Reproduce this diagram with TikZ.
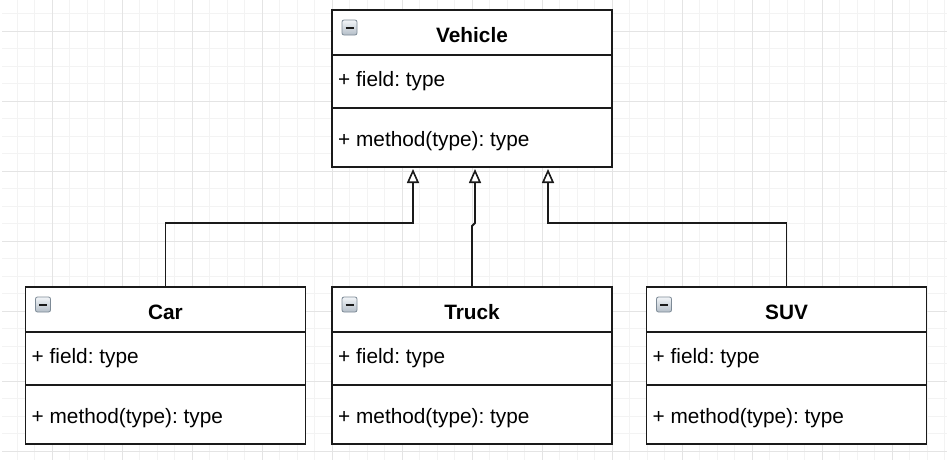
\documentclass[tikz,border=0pt]{standalone}
\usepackage{fontspec}
\setmainfont{Liberation Sans}
\usetikzlibrary{arrows.meta,calc}
\frenchspacing
\definecolor{gridmajor}{HTML}{E4E4E4}
\definecolor{gridminor}{HTML}{F3F3F3}
\definecolor{boxline}{HTML}{1A1A1A}
\definecolor{icontop}{HTML}{F2F5F8}
\definecolor{iconbot}{HTML}{B4BEC8}
\definecolor{iconedge}{HTML}{7D8A96}
\newcommand{\umlclass}[4]{%
  \node[classbox, anchor=north] (#1) at (#2,#3) {};
  \draw[sepline] ($(#1.north west)+(0,45)$) -- ($(#1.north east)+(0,45)$);
  \draw[sepline] ($(#1.north west)+(0,98)$) -- ($(#1.north east)+(0,98)$);
  \shade[top color=icontop, bottom color=iconbot, draw=iconedge, line width=0.8pt, rounded corners=2pt]
    ($(#1.north west)+(10,10)$) rectangle ($(#1.north west)+(25,25)$);
  \draw[boxline, line width=2pt] ($(#1.north west)+(13.5,17.5)$) -- ($(#1.north west)+(21.5,17.5)$);
  \node[titletext] (#1-title) at ($(#1.north)+(0,32)$) {#4};
  \node[membertext] (#1-field) at ($(#1.north west)+(6,76)$) {+ field: type};
  \node[membertext] (#1-method) at ($(#1.north west)+(6,136)$) {+ method(type): type};
}
\begin{document}
\begin{tikzpicture}[x=1pt,y=-1pt,
  classbox/.style={draw=boxline, line width=1.6pt, fill=white, minimum width=280pt, minimum height=157pt, inner sep=0pt, outer sep=0pt},
  sepline/.style={draw=boxline, line width=1.6pt},
  titletext/.style={font=\fontsize{20.8}{24}\selectfont\bfseries, anchor=base, inner sep=0pt},
  membertext/.style={font=\fontsize{20.8}{24}\selectfont, anchor=base west, inner sep=0pt},
  inh/.style={draw=boxline, line width=1.8pt, -{Triangle[open, length=14pt, width=12pt, line width=1.6pt]}},
  gminor/.style={draw=gridminor, line width=1pt},
  gmajor/.style={draw=gridmajor, line width=1pt}
]
\useasboundingbox (0,0) rectangle (947,471);
\fill[white] (0,0) rectangle (947,471);
% grid
\foreach \i in {0,...,53} \draw[gminor] ({17+17.5*\i},0) -- ++(0,460);
\foreach \i in {0,...,25} \draw[gminor] (2,{13.5+17.5*\i}) -- (947,{13.5+17.5*\i});
\foreach \i in {0,...,12} \draw[gmajor] ({52+70*\i},0) -- ++(0,460);
\foreach \i in {0,...,6} \draw[gmajor] (2,{31+70*\i}) -- (947,{31+70*\i});
% classes
\umlclass{vehicle}{472}{10}{Vehicle}
\umlclass{car}{165.5}{287}{Car}
\umlclass{truck}{472}{287}{Truck}
\umlclass{suv}{786.5}{287}{SUV}
% arrow tips
\coordinate (tipA) at (413,169);
\coordinate (tipB) at (475,169);
\coordinate (tipC) at (548,169);
\draw[inh] (car.north) -- ++(0,-64) -| (tipA);
\draw[inh] (truck.north) -- ++(0,-61) -- ++(3,-3) -- (tipB);
\draw[inh] (suv.north) -- ++(0,-64) -| (tipC);
\end{tikzpicture}
\end{document}
